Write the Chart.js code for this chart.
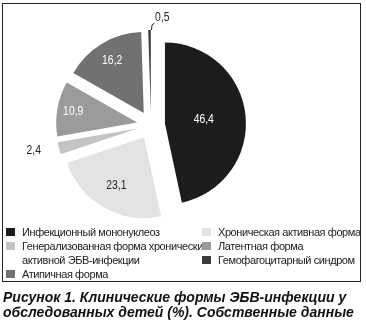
<!DOCTYPE html>
<html>
<head>
<meta charset="utf-8">
<script src="https://cdn.jsdelivr.net/npm/chart.js@4"></script>
<style>
  body { margin: 0; background: #fff; width: 366px; height: 325px; overflow: hidden; position: relative; }
  #frame { position: absolute; left: 2px; top: 3px; width: 357px; height: 277px; border: 1.5px solid #222; }
  #pie { position: absolute; left: 0; top: 0; }
  #legend { position: absolute; left: 6px; top: 225px; display: flex; font-family: "Liberation Sans", Arial, sans-serif; font-size: 11px; letter-spacing: -0.42px; line-height: 14px; color: #222; }
  .col { display: flex; flex-direction: column; }
  .col.left { width: 196px; }
  .item { display: flex; white-space: nowrap; }
  .sw { width: 9px; height: 8px; margin-top: 3px; margin-right: 7px; flex: none; }
  #caption { position: absolute; left: 3px; top: 290px; font-family: "Liberation Sans", Arial, sans-serif; font-weight: bold; font-style: italic; font-size: 14px; line-height: 15px; color: #111; white-space: nowrap; }
</style>
</head>
<body>
<div id="frame"></div>
<canvas id="pie" width="302" height="250"></canvas>
<div id="legend"><div class="col left"></div><div class="col right"></div></div>
<div id="caption">Рисунок 1. Клинические формы ЭБВ-инфекции у<br>обследованных детей (%). Собственные данные</div>
<script>
const labels = [
    'Инфекционный мононуклеоз',
    'Хроническая активная форма',
    ['Генерализованная форма хронически', 'активной ЭБВ-инфекции'],
    'Латентная форма',
    'Атипичная форма',
    'Гемофагоцитарный синдром'
];
const values = [46.4, 23.1, 2.4, 10.9, 16.2, 0.5];
const colors = ['#1c1c1c', '#e3e3e3', '#c4c4c4', '#9b9b9b', '#717171', '#3a3a3a'];
const textColors = ['#fff', '#222', '#222', '#fff', '#fff', '#222'];

const EXPLODE = 14;
const fmt = v => v.toFixed(1).replace('.', ',');

// pull every slice out by the same distance (chart.js offset also grows the radius)
const explode = {
    id: 'explode',
    beforeDatasetDraw(chart, args) {
        const ctx = chart.ctx;
        args.meta.data.forEach(arc => {
            const mid = (arc.startAngle + arc.endAngle) / 2;
            ctx.save();
            ctx.translate(Math.cos(mid) * EXPLODE, Math.sin(mid) * EXPLODE);
            arc.draw(ctx);
            ctx.restore();
        });
        return false;
    }
};

// narrow text like the original
function narrowText(ctx, text, x, y, align) {
    ctx.save();
    ctx.translate(x, y);
    ctx.scale(0.8, 1);
    ctx.textAlign = align;
    ctx.fillText(text, 0, 0);
    ctx.restore();
}

// values on slices, small ones outside
const sliceLabels = {
    id: 'sliceLabels',
    afterDatasetsDraw(chart) {
        const ctx = chart.ctx;
        const meta = chart.getDatasetMeta(0);
        const ds = chart.data.datasets[0];
        const off = EXPLODE;
        ctx.save();
        ctx.font = '13px "Liberation Sans", Arial, sans-serif';
        ctx.textBaseline = 'middle';
        meta.data.forEach((arc, i) => {
            const v = ds.data[i];
            const mid = (arc.startAngle + arc.endAngle) / 2;
            const r = arc.outerRadius;
            const cos = Math.cos(mid), sin = Math.sin(mid);
            if (v >= 5) {
                const d = off + r * (0.9 - 0.9 * v / 100);
                ctx.fillStyle = textColors[i];
                narrowText(ctx, fmt(v), arc.x + cos * d, arc.y + sin * d, 'center');
            } else if (v >= 1) {
                const d = off + r + 26;
                ctx.fillStyle = '#222';
                narrowText(ctx, fmt(v), arc.x + cos * d, arc.y + sin * d - 4, 'center');
            } else {
                const ex = arc.x + cos * (off + r), ey = arc.y + sin * (off + r);
                ctx.strokeStyle = '#222';
                ctx.lineWidth = 1;
                ctx.beginPath();
                ctx.moveTo(ex + 2, ey);
                ctx.lineTo(ex + 2.5, ey - 5);
                ctx.lineTo(ex + 5, ey - 7);
                ctx.stroke();
                ctx.fillStyle = '#222';
                narrowText(ctx, fmt(v), ex + 5.5, ey - 13, 'left');
            }
        });
        ctx.restore();
    }
};

new Chart(document.getElementById('pie').getContext('2d'), {
    type: 'pie',
    data: {
        labels: labels,
        datasets: [{
            data: values,
            backgroundColor: colors,
            borderWidth: 0
        }]
    },
    options: {
        responsive: false,
        animation: false,
        radius: 81,
        layout: { padding: 0 },
        plugins: {
            legend: { display: false },
            tooltip: { enabled: false }
        }
    },
    plugins: [explode, sliceLabels]
});

// html legend, two columns
const cols = document.querySelectorAll('#legend .col');
labels.forEach((lab, i) => {
    const item = document.createElement('div');
    item.className = 'item';
    const sw = document.createElement('div');
    sw.className = 'sw';
    sw.style.background = colors[i];
    const txt = document.createElement('div');
    txt.innerHTML = Array.isArray(lab) ? lab.join('<br>') : lab;
    item.appendChild(sw);
    item.appendChild(txt);
    cols[i % 2].appendChild(item);
});
</script>
</body>
</html>
